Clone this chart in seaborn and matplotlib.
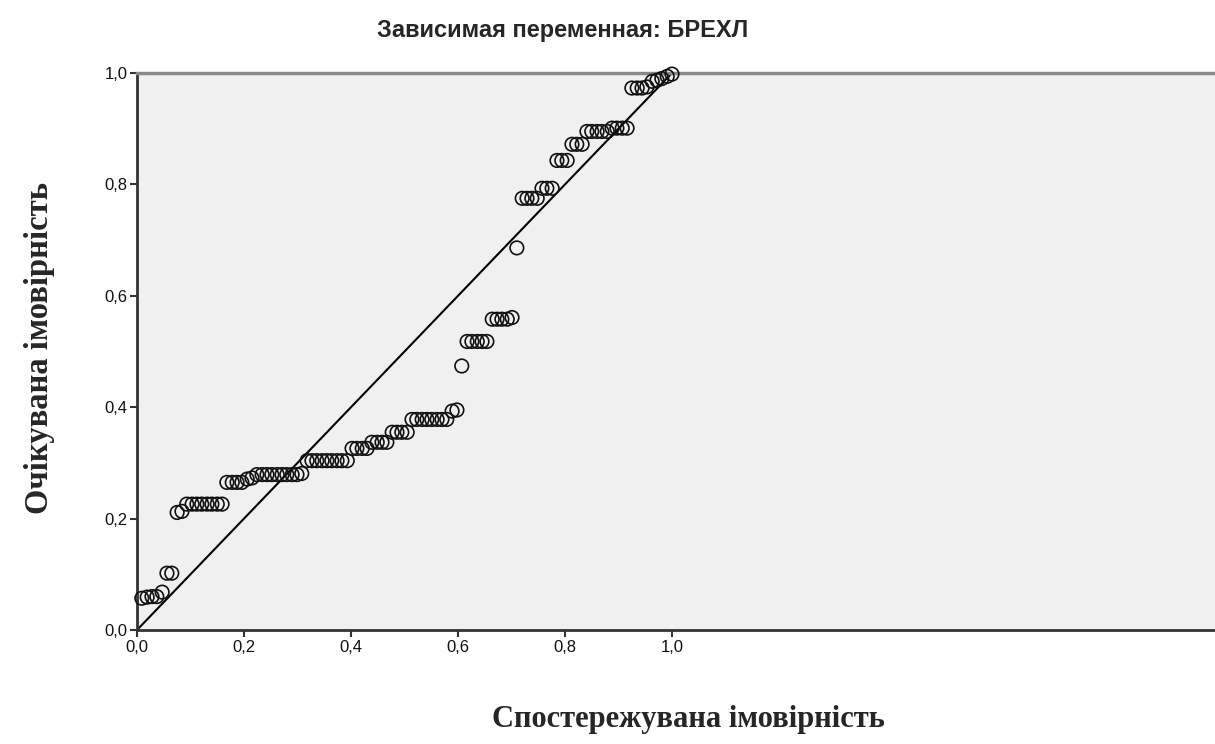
import matplotlib
matplotlib.use("Agg")
import matplotlib.pyplot as plt
import seaborn as sns
import pandas as pd

# Observed cumulative probability (x) and expected cumulative probability (y)
observed = [
    0.009, 0.019, 0.028, 0.037, 0.047, 0.056, 0.065, 0.075, 0.084, 0.093,
    0.103, 0.112, 0.121, 0.131, 0.140, 0.150, 0.159, 0.168, 0.178, 0.187,
    0.196, 0.206, 0.215, 0.224, 0.234, 0.243, 0.252, 0.262, 0.271, 0.280,
    0.290, 0.299, 0.308, 0.318, 0.327, 0.336, 0.346, 0.355, 0.364, 0.374,
    0.383, 0.393, 0.402, 0.411, 0.421, 0.430, 0.439, 0.449, 0.458, 0.467,
    0.477, 0.486, 0.495, 0.505, 0.514, 0.523, 0.533, 0.542, 0.551, 0.561,
    0.570, 0.579, 0.589, 0.598, 0.607, 0.617, 0.626, 0.636, 0.645, 0.654,
    0.664, 0.673, 0.682, 0.692, 0.701, 0.710, 0.720, 0.729, 0.738, 0.748,
    0.757, 0.766, 0.776, 0.785, 0.794, 0.804, 0.813, 0.822, 0.832, 0.841,
    0.850, 0.860, 0.869, 0.879, 0.888, 0.897, 0.907, 0.916, 0.925, 0.935,
    0.944, 0.953, 0.963, 0.972, 0.981, 0.991, 1.000,
]
expected = [
    0.057, 0.059, 0.060, 0.060, 0.068, 0.102, 0.102, 0.211, 0.213, 0.226,
    0.226, 0.226, 0.226, 0.226, 0.226, 0.226, 0.226, 0.265, 0.265, 0.265,
    0.265, 0.271, 0.273, 0.279, 0.279, 0.279, 0.279, 0.279, 0.279, 0.279,
    0.279, 0.279, 0.281, 0.304, 0.304, 0.304, 0.304, 0.304, 0.304, 0.304,
    0.304, 0.304, 0.326, 0.326, 0.326, 0.326, 0.337, 0.337, 0.337, 0.337,
    0.355, 0.355, 0.355, 0.355, 0.378, 0.378, 0.378, 0.378, 0.378, 0.378,
    0.378, 0.378, 0.393, 0.395, 0.474, 0.518, 0.518, 0.518, 0.518, 0.518,
    0.558, 0.558, 0.558, 0.558, 0.561, 0.686, 0.775, 0.775, 0.775, 0.775,
    0.793, 0.793, 0.793, 0.843, 0.843, 0.843, 0.872, 0.872, 0.872, 0.895,
    0.895, 0.895, 0.895, 0.895, 0.901, 0.901, 0.901, 0.901, 0.973, 0.973,
    0.973, 0.975, 0.985, 0.987, 0.990, 0.994, 0.998,
]

# Reference diagonal
diag_x = [0.0, 1.0]
diag_y = [0.0, 1.0]

tick_values = [0.0, 0.2, 0.4, 0.6, 0.8, 1.0]
tick_labels = ["0,0", "0,2", "0,4", "0,6", "0,8", "1,0"]

title_text = "Зависимая переменная: БРЕХЛ"
xlabel_text = "Спостережувана імовірність"
ylabel_text = "Очікувана імовірність"

sns.set_theme(style="white")
plt.rcParams["font.family"] = ["Liberation Sans", "DejaVu Sans"]

W, H = 1215, 744
fig = plt.figure(figsize=(W / 100, H / 100), dpi=100)
ax = fig.add_axes([137 / W, 1 - 630 / H, (W - 137) / W, (630 - 73) / H])
ax.set_facecolor("#f0f0f0")

df = pd.DataFrame({"observed": observed, "expected": expected})
line_df = pd.DataFrame({"x": diag_x, "y": diag_y})

sns.lineplot(data=line_df, x="x", y="y", ax=ax, color="black", linewidth=1.5, zorder=2)
sns.scatterplot(data=df, x="observed", y="expected", ax=ax, s=95, marker="o",
                facecolor="none", edgecolor="#111111", linewidth=1.2,
                zorder=3, clip_on=False)

ax.set_xlim(0, (W - 137) / 535)
ax.set_ylim(0, 1.0)
ax.set_xticks(tick_values)
ax.set_xticklabels(tick_labels)
ax.set_yticks(tick_values)
ax.set_yticklabels(tick_labels)
ax.set_xlabel("")
ax.set_ylabel("")
ax.tick_params(axis="both", direction="out", length=5, width=1.5, color="#333333",
               labelsize=12, labelcolor="#111111", pad=2)
ax.tick_params(axis="x", bottom=True)
ax.tick_params(axis="y", left=True)

for side in ["left", "bottom"]:
    ax.spines[side].set_color("#333333")
    ax.spines[side].set_linewidth(2)
ax.spines["top"].set_color("#888888")
ax.spines["top"].set_linewidth(2.5)
ax.spines["right"].set_visible(False)

fig.text(563 / W, 1 - 31 / H, title_text, ha="center", va="center",
         fontsize=17, fontweight="bold", family=["Liberation Sans", "DejaVu Sans"])
fig.text(688 / W, 1 - 720 / H, xlabel_text, ha="center", va="center",
         fontsize=22, fontweight="bold", family=["Liberation Serif", "DejaVu Serif"])
fig.text(40 / W, 1 - 348 / H, ylabel_text, ha="center", va="center", rotation=90,
         fontsize=23.5, fontweight="bold", family=["Liberation Serif", "DejaVu Serif"])

fig.savefig("out.png", dpi=100, facecolor="white")
